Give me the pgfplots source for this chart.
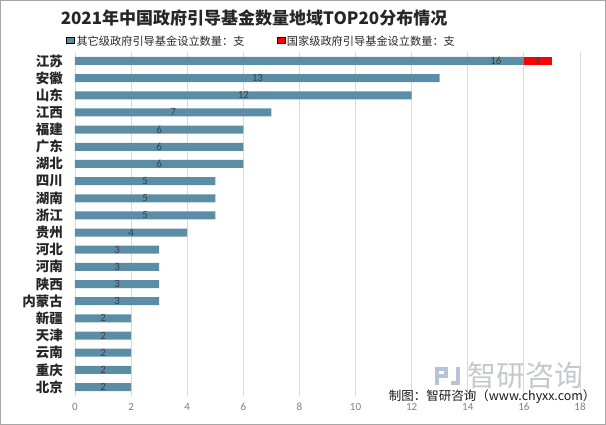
\documentclass[border=0pt]{standalone}
\usepackage{pgfplots}
\pgfplotsset{compat=1.18}
\usepackage{fontspec}
\setmainfont{Noto Sans CJK SC}
\newfontfamily\carlito{Carlito}
\definecolor{barblue}{HTML}{5B8DA7}
\definecolor{natred}{HTML}{FF0000}
\definecolor{gridc}{HTML}{D9D9D9}
\definecolor{ticktext}{HTML}{7F7F7F}
\definecolor{lbltext}{HTML}{404040}
\definecolor{wmtext}{HTML}{C4C9CF}
\definecolor{wmlogo}{HTML}{B4C4D6}
\begin{document}
\begin{tikzpicture}
\useasboundingbox (0pt,0pt) rectangle (606pt,425pt);
\draw[color=gray!70, line width=1pt] (0.5pt,0.5pt) rectangle (605.5pt,424.5pt);
\node[font=\fontsize{17}{20}\selectfont\bfseries, text=black!85] at (254pt,407pt) {2021年中国政府引导基金数量地域TOP20分布情况};
% watermark
\fill[wmlogo] (435pt,40pt) rectangle (439pt,58pt);
\fill[wmlogo] (435pt,54pt) rectangle (448pt,58pt);
\fill[wmlogo] (444pt,47pt) rectangle (448pt,58pt);
\fill[wmlogo] (439pt,47pt) rectangle (448pt,51pt);
\fill[wmlogo] (451pt,40pt) rectangle (460pt,44pt);
\fill[wmlogo] (456pt,40pt) rectangle (460pt,58pt);
\node[font=\fontsize{29}{31}\selectfont, text=wmtext, anchor=west, inner sep=0pt] at (467pt,49pt) {智研咨询};
\begin{axis}[
  at={(75pt,29.4pt)}, anchor=south west, scale only axis,
  width=505pt, height=343.2pt,
  xmin=0, xmax=18, ymin=-0.5, ymax=19.5, y dir=reverse,
  ytick={0,...,19},
  yticklabels={江苏,安徽,山东,江西,福建,广东,湖北,四川,湖南,浙江,贵州,河北,河南,陕西,内蒙古,新疆,天津,云南,重庆,北京},
  yticklabel style={font=\fontsize{13.5}{15}\selectfont\bfseries, text=black!85, xshift=-8.5pt},
  xtick={0,2,...,18},
  xticklabel style={font=\fontsize{11}{13}\selectfont\carlito, text=ticktext, yshift=-4pt},
  /pgf/number format/assume math mode=true,
  xmajorgrids, grid style={draw=gridc, line width=0.8pt},
  axis line style={draw=none}, major tick style={draw=none},
  legend style={at={(axis description cs:-0.018,1.0)}, anchor=south west, draw=none, fill=none,
    font=\fontsize{11.2}{13}\selectfont, text=black!85, legend columns=2,
    /tikz/every even column/.append style={column sep=30pt}, inner sep=0pt, yshift=3pt},
  legend image code/.code={\fill[#1] (0pt,-3.5pt) rectangle (7pt,3.5pt);},
]
\addplot[xbar stacked, bar width=8pt, fill=barblue, draw=none] coordinates {
(16,0) (13,1) (12,2) (7,3) (6,4) (6,5) (6,6) (5,7) (5,8) (5,9)
(4,10) (3,11) (3,12) (3,13) (3,14) (2,15) (2,16) (2,17) (2,18) (2,19)};
\addlegendentry{其它级政府引导基金设立数量：支}
\addplot[xbar stacked, bar width=8pt, fill=natred, draw=none] coordinates {
(1,0) (0,1) (0,2) (0,3) (0,4) (0,5) (0,6) (0,7) (0,8) (0,9)
(0,10) (0,11) (0,12) (0,13) (0,14) (0,15) (0,16) (0,17) (0,18) (0,19)};
\addlegendentry{国家级政府引导基金设立数量：支}
\addplot[forget plot, stack plots=false, draw=none, mark=none, nodes near coords, point meta=explicit symbolic,
  nodes near coords style={anchor=center, font=\fontsize{11}{13}\selectfont\carlito, text=lbltext}]
  table[meta=label] {
x y label
15.0 0 16
16.5 0 1
6.5 1 13
6.0 2 12
3.5 3 7
3.0 4 6
3.0 5 6
3.0 6 6
2.5 7 5
2.5 8 5
2.5 9 5
2.0 10 4
1.5 11 3
1.5 12 3
1.5 13 3
1.5 14 3
1.0 15 2
1.0 16 2
1.0 17 2
1.0 18 2
1.0 19 2
};
\end{axis}
\node[font=\fontsize{12.5}{14}\selectfont, text=black!90, anchor=east] at (599pt,28pt) {制图：智研咨询（www.chyxx.com）};
\end{tikzpicture}
\end{document}
